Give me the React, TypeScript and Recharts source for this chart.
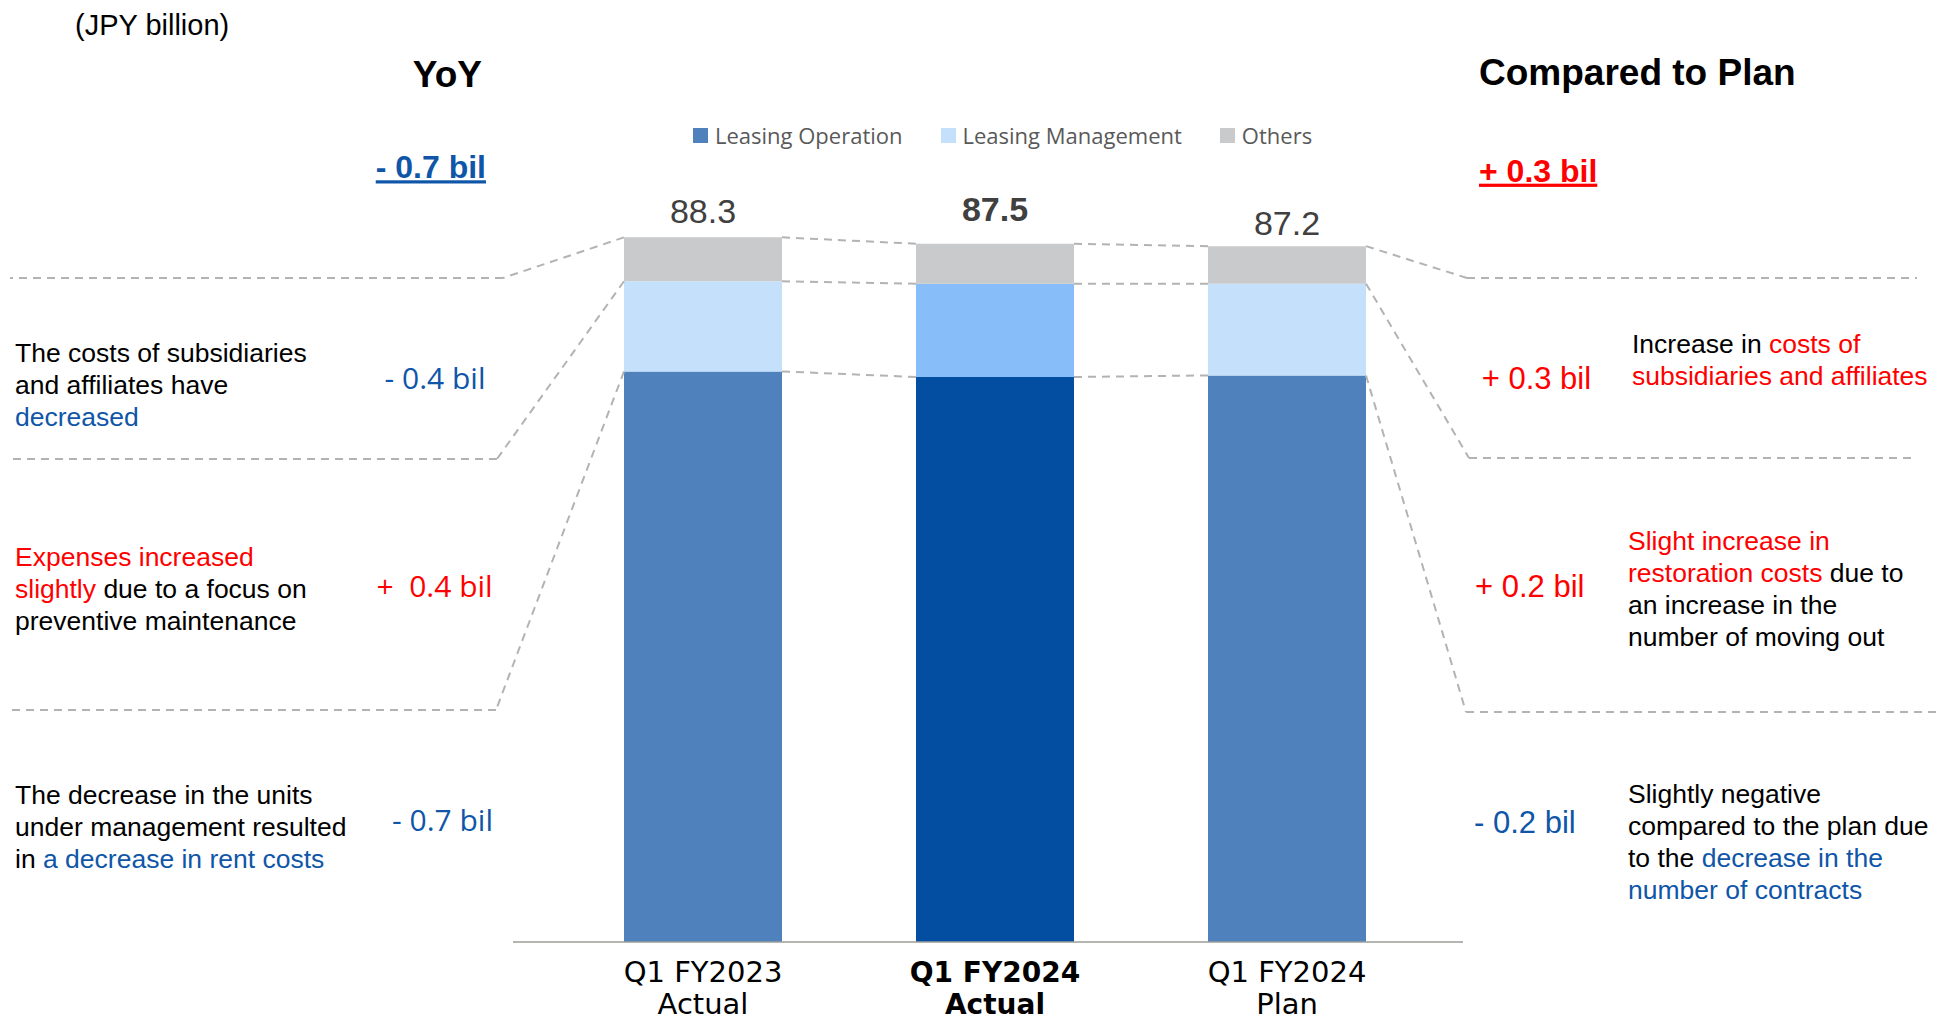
import React from "react"
import { BarChart, Bar, XAxis, YAxis, Cell, LabelList, Legend, ReferenceLine } from "recharts"

// JPY billion
const periods = ["Q1 FY2023", "Q1 FY2024", "Q1 FY2024"]
const kinds = ["Actual", "Actual", "Plan"]
const leasingOperation = [71.5, 70.8, 71.0]
const leasingManagement = [11.3, 11.7, 11.5]
const others = [5.5, 5.0, 4.7]
const totals = [88.3, 87.5, 87.2]

const data = periods.map((p, i) => ({
  name: `${p}\n${kinds[i]}`,
  lo: leasingOperation[i],
  lm: leasingManagement[i],
  ot: others[i],
  total: totals[i],
}))

// page layout, px
const W = 1939
const H = 1021
const PLOT_L = 513
const PLOT_R = 1463
const PLOT_T = 144
const ZERO_Y = 942
const PAD_L = 44
const PAD_R = 30
const BAR_W = 158
const Y_MAX = 100
const STEP = (PLOT_R - PLOT_L - PAD_L - PAD_R) / 3
const PPU = (ZERO_Y - PLOT_T) / Y_MAX
const HALF = BAR_W / 2 / STEP
// page px -> axis units, only for the section dividers of the side notes
const xu = (px: number) => (px - PLOT_L - PAD_L) / STEP - 0.5
const yu = (px: number) => (ZERO_Y - px) / PPU

const ARIAL = '"Liberation Sans", Arial, sans-serif'
const VERD = '"DejaVu Sans", Verdana, sans-serif'
const SEGOE = '"Open Sans", sans-serif'
const RED = "#FF0000"
const BLUE = "#0F56A8"
const INK = "#000000"
const DASH = "#B3B3B3"

const colors = { lo: "#4F81BD", lm: "#C5E0FB", ot: "#C9CACC" }
const focus = { lo: "#044EA2", lm: "#87BDF9", ot: "#C9CACC" }
const legendOrder = ["lo", "lm", "ot"]

// stack boundaries: top, top of management, top of operation
const levels = [
  data.map((d) => d.lo + d.lm + d.ot),
  data.map((d) => d.lo + d.lm),
  data.map((d) => d.lo),
]
const leftDiv = [
  { x: 503, y: 278 },
  { x: 497, y: 459 },
  { x: 496, y: 710 },
]
const rightDiv = [
  { x: 1467, y: 278 },
  { x: 1469, y: 458 },
  { x: 1466, y: 712 },
]
const LEFT_END = 10
const rightEnd = [1917, 1917, 1939]

const segs: { x: number; y: number }[][] = []
levels.forEach((lv, k) => {
  for (let i = 0; i < 2; i++) {
    segs.push([{ x: i + HALF, y: lv[i] }, { x: i + 1 - HALF, y: lv[i + 1] }])
  }
  const l = leftDiv[k]
  segs.push([{ x: -HALF, y: lv[0] }, { x: xu(l.x), y: yu(l.y) }])
  segs.push([{ x: xu(l.x), y: yu(l.y) }, { x: xu(LEFT_END), y: yu(l.y) }])
  const r = rightDiv[k]
  segs.push([{ x: 2 + HALF, y: lv[2] }, { x: xu(r.x), y: yu(r.y) }])
  segs.push([{ x: xu(r.x), y: yu(r.y) }, { x: xu(rightEnd[k]), y: yu(r.y) }])
})

type Part = [string, string?]

function Lines({ x, y, lines, size = 26.5, family = ARIAL, lh = 32 }: { x: number; y: number; lines: Part[][]; size?: number; family?: string; lh?: number }) {
  return (
    <g>
      {lines.map((ln, i) => (
        <text key={i} x={x} y={y + i * lh} fontSize={size} fontFamily={family} style={{ whiteSpace: "pre" }}>
          {ln.map(([t, c], j) => (
            <tspan key={j} fill={c || INK}>{t}</tspan>
          ))}
        </text>
      ))}
    </g>
  )
}

function Txt({ x, y, children, size, color = INK, family = ARIAL, bold = false, anchor = "start", underline = false }: any) {
  return (
    <text
      x={x}
      y={y}
      fontSize={size}
      fill={color}
      fontFamily={family}
      fontWeight={bold ? 700 : 400}
      textAnchor={anchor}
      textDecoration={underline ? "underline" : undefined}
      style={{ whiteSpace: "pre" }}
    >
      {children}
    </text>
  )
}

function CatTick(props: any) {
  const { x, y, payload } = props
  const index = props.index ?? payload?.index
  const [l1, l2] = String(payload.value).split("\n")
  const bold = index === 1
  const common = {
    x,
    textAnchor: "middle" as const,
    fontFamily: VERD,
    fontSize: bold ? 28 : 29,
    fontWeight: bold ? 700 : 400,
    fill: "#000",
  }
  return (
    <g>
      <text {...common} y={y + 40}>{l1}</text>
      <text {...common} y={y + 71.5}>{l2}</text>
    </g>
  )
}

function TotalLabel(props: any) {
  const { x, y, width, value, index } = props
  const lift = [14, 23, 11][index] ?? 14
  return (
    <text
      x={Number(x) + Number(width) / 2}
      y={Number(y) - lift}
      textAnchor="middle"
      fontFamily={ARIAL}
      fontSize={34}
      fontWeight={index === 1 ? 700 : 400}
      fill="#404040"
    >
      {Number(value).toFixed(1)}
    </text>
  )
}

function LegendContent({ payload }: any) {
  const items = [...(payload || [])].sort(
    (a: any, b: any) => legendOrder.indexOf(a.dataKey) - legendOrder.indexOf(b.dataKey)
  )
  return (
    <div style={{ display: "flex", alignItems: "center", fontFamily: SEGOE, fontSize: 22, color: "#595959", lineHeight: "30px", whiteSpace: "nowrap" }}>
      {items.map((e: any, i: number) => (
        <div key={i} style={{ display: "flex", alignItems: "center", marginRight: 38 }}>
          <span style={{ width: 15, height: 15, background: e.color, marginRight: 7, display: "inline-block" }} />
          {e.value}
        </div>
      ))}
    </div>
  )
}

export default function App() {
  return (
    <div style={{ position: "absolute", left: 0, top: 0, width: W, height: H, background: "#fff", overflow: "hidden" }}>
      <BarChart
        width={W}
        height={H}
        data={data}
        barSize={BAR_W}
        margin={{ top: PLOT_T, right: W - PLOT_R, bottom: 0, left: PLOT_L }}
      >
        <XAxis
          dataKey="name"
          height={H - ZERO_Y}
          padding={{ left: PAD_L, right: PAD_R }}
          tickLine={false}
          tickSize={0}
          tickMargin={0}
          interval={0}
          axisLine={{ stroke: "#9B9E98", strokeWidth: 1.5 }}
          tick={(p: any) => <CatTick {...p} />}
        />
        {/* numeric twin of the category axis: 0, 1, 2 sit on the bar centres */}
        <XAxis
          xAxisId="n"
          type="number"
          domain={[0, 2]}
          allowDataOverflow
          hide
          padding={{ left: PAD_L + STEP / 2, right: PAD_R + STEP / 2 }}
        />
        <YAxis hide domain={[0, Y_MAX]} allowDataOverflow />
        <Legend
          verticalAlign="middle"
          align="center"
          layout="horizontal"
          wrapperStyle={{ left: 693, top: 120, width: 720, height: 30 }}
          content={(p: any) => <LegendContent {...p} />}
        />
        <Bar dataKey="lo" name="Leasing Operation" stackId="s" fill={colors.lo} isAnimationActive={false}>
          {data.map((_, i) => (
            <Cell key={i} fill={i === 1 ? focus.lo : colors.lo} />
          ))}
        </Bar>
        <Bar dataKey="lm" name="Leasing Management" stackId="s" fill={colors.lm} isAnimationActive={false}>
          {data.map((_, i) => (
            <Cell key={i} fill={i === 1 ? focus.lm : colors.lm} />
          ))}
        </Bar>
        <Bar dataKey="ot" name="Others" stackId="s" fill={colors.ot} isAnimationActive={false}>
          <LabelList dataKey="total" content={(p: any) => <TotalLabel {...p} />} />
        </Bar>
        {segs.map((s, i) => (
          <ReferenceLine
            key={i}
            xAxisId="n"
            segment={s}
            stroke={DASH}
            strokeWidth={2}
            strokeDasharray="8 6"
            ifOverflow="visible"
          />
        ))}
      </BarChart>

      <svg width={W} height={H} style={{ position: "absolute", left: 0, top: 0, pointerEvents: "none" }}>
        <Txt x={75} y={34.5} size={29}>(JPY billion)</Txt>
        <Txt x={482} y={87.3} size={37} bold anchor="end">YoY</Txt>
        <Txt x={1479} y={85} size={37} bold>Compared to Plan</Txt>
        <Txt x={486} y={178.3} size={32} bold underline anchor="end" color={BLUE}>- 0.7 bil</Txt>
        <Txt x={1479} y={181.7} size={32} bold underline color={RED}>+ 0.3 bil</Txt>

        <Txt x={485.5} y={389.3} size={30} family={SEGOE} anchor="end" color={BLUE}>- 0.4 bil</Txt>
        <Txt x={492.7} y={596.7} size={30} family={SEGOE} anchor="end" color={RED}>{"+  0.4 bil"}</Txt>
        <Txt x={493} y={831} size={30} family={SEGOE} anchor="end" color={BLUE}>- 0.7 bil</Txt>

        <Txt x={1481.7} y={389.3} size={31} color={RED}>+ 0.3 bil</Txt>
        <Txt x={1475} y={597.3} size={31} color={RED}>+ 0.2 bil</Txt>
        <Txt x={1474} y={833} size={31} color={BLUE}>- 0.2 bil</Txt>

        <Lines x={15} y={361.7} lines={[[["The costs of subsidiaries"]], [["and affiliates have"]], [["decreased", BLUE]]]} />
        <Lines
          x={15}
          y={565.5}
          lines={[[["Expenses increased", RED]], [["slightly", RED], [" due to a focus on"]], [["preventive maintenance"]]]}
        />
        <Lines
          x={15}
          y={804}
          lines={[[["The decrease in the units"]], [["under management resulted"]], [["in "], ["a decrease in rent costs", BLUE]]]}
        />
        <Lines x={1632} y={353} lines={[[["Increase in "], ["costs of", RED]], [["subsidiaries and affiliates", RED]]]} />
        <Lines
          x={1628}
          y={549.5}
          lines={[
            [["Slight increase in", RED]],
            [["restoration costs", RED], [" due to"]],
            [["an increase in the"]],
            [["number of moving out"]],
          ]}
        />
        <Lines
          x={1628}
          y={803}
          lines={[
            [["Slightly negative"]],
            [["compared to the plan due"]],
            [["to the "], ["decrease in the", BLUE]],
            [["number of contracts", BLUE]],
          ]}
        />
      </svg>
    </div>
  )
}
